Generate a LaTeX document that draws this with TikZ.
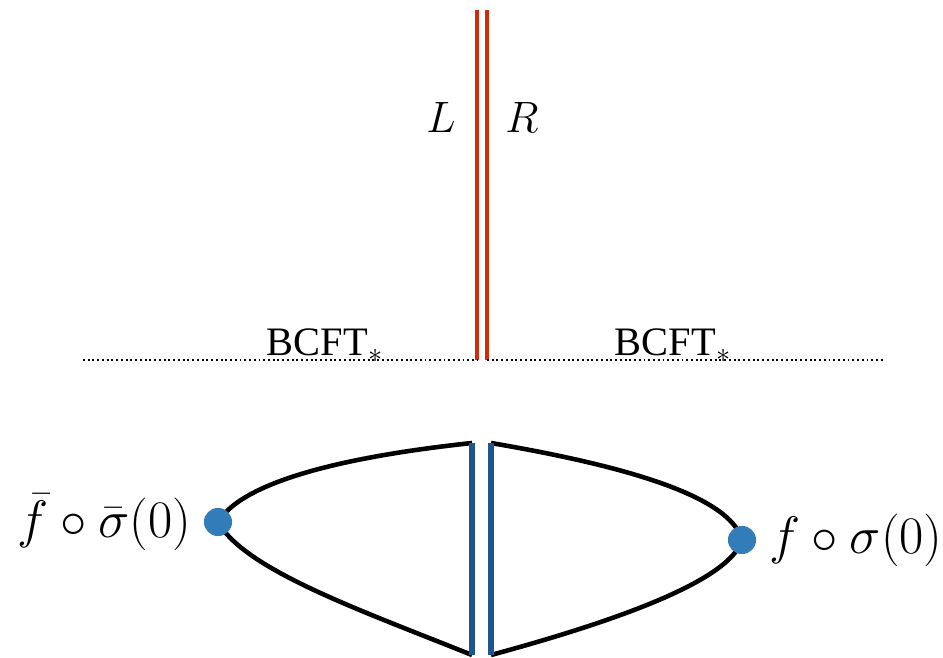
\documentclass[tikz,border=0pt]{standalone}
\usepackage{fix-cm}
\usepackage{fontspec}
\setmainfont{Liberation Serif}
\usepackage{amsmath}
\usetikzlibrary{positioning}
\definecolor{wallred}{RGB}{205,45,10}
\definecolor{wallblue}{RGB}{30,85,145}
\definecolor{dotblue}{RGB}{50,125,185}

\begin{document}
\begin{tikzpicture}[x=0.02cm, y=-0.02cm,
        every node/.style={inner sep=0pt},
        redwall/.style={draw=wallred, line width=2.5pt},
        bluewall/.style={draw=wallblue, line width=3.1pt},
        curve/.style={draw=black, line width=2.6pt},
        cut/.style={draw=black, line width=1.1pt, dash pattern=on 1.1pt off 1.6pt},
        dot/.style={circle, fill=dotblue, minimum size=16pt},
        side/.style={font=\fontsize{25}{30}\selectfont},
        ends/.style={font=\fontsize{30}{34}\selectfont},
        bcft/.style={font=\fontsize{23}{27}\selectfont, anchor=base}
    ]
    \useasboundingbox (0,0) rectangle (943,658);
    % upper half: the interface and the cut
    \coordinate (rl top) at (477,10);
    \coordinate (rl bot) at (477,360);
    \coordinate (rr top) at (487,10);
    \coordinate (rr bot) at (487,360);
    \draw[redwall] (rl top) -- (rl bot);
    \draw[redwall] (rr top) -- (rr bot);
    \node[side] (lab L) at (441,117) {$L$};
    \node[side] (lab R) at (522,117) {$R$};
    \coordinate (cut l) at (83,360);
    \coordinate (cut r) at (884,360);
    \draw[cut] (cut l) -- (rl bot);
    \draw[cut] (rr bot) -- (cut r);
    \node[bcft] (bcft l) at (325,356) {BCFT$_*$};
    \node[bcft] (bcft r) at (673,356) {BCFT$_*$};
    % lower half: the two glued pieces
    \coordinate (bl top) at (472,443);
    \coordinate (bl bot) at (472,655);
    \coordinate (br top) at (491,443);
    \coordinate (br bot) at (491,655);
    \coordinate (ldot) at (218,522);
    \coordinate (rdot) at (742,540);
    \draw[curve] (ldot) .. controls (245,478) and (360,455) .. (bl top);
    \draw[curve] (ldot) .. controls (245,570) and (360,610) .. (bl bot);
    \draw[curve] (br top) .. controls (620,465) and (730,495) .. (rdot);
    \draw[curve] (br bot) .. controls (620,620) and (730,580) .. (rdot);
    \draw[bluewall] (bl top) -- (bl bot);
    \draw[bluewall] (br top) -- (br bot);
    \node[dot] (ldot node) at (ldot) {};
    \node[dot] (rdot node) at (rdot) {};
    \node[ends, left=7pt of ldot node] (lab ldot) {$\bar f\circ\bar\sigma(0)$};
    \node[ends, right=7pt of rdot node] (lab rdot) {$f\circ\sigma(0)$};
\end{tikzpicture}
\end{document}
